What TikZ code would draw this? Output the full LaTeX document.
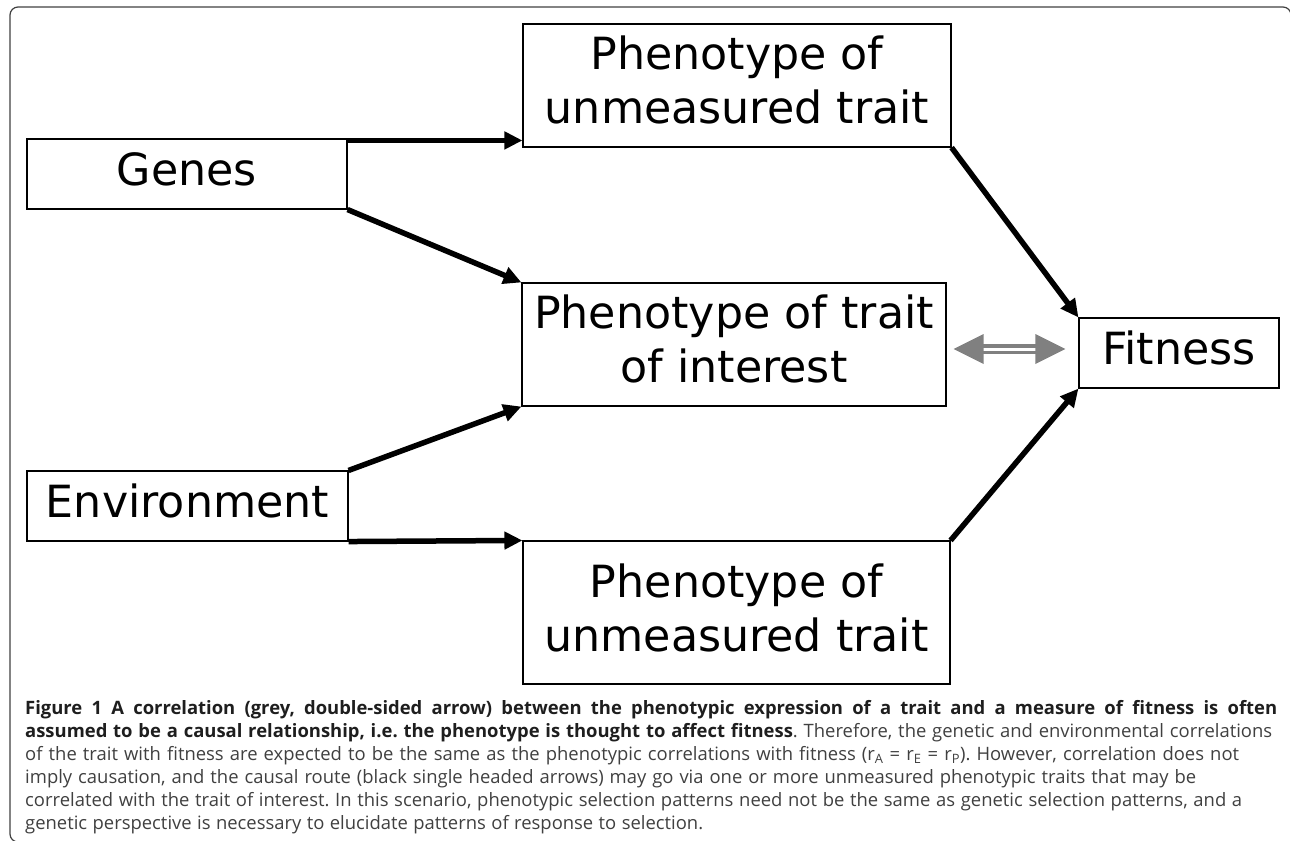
\documentclass[tikz,border=0pt]{standalone}
\usepackage{fontspec}
\setmainfont{DejaVu Sans}
\newfontfamily\capfont{Open Sans}
\usetikzlibrary{arrows.meta}
\definecolor{corrgrey}{RGB}{128,128,128}
\definecolor{capgrey}{RGB}{64,64,64}
\definecolor{capdark}{RGB}{30,30,30}
\begin{document}
\begin{tikzpicture}[x=1bp,y=-1bp,
  box/.style={draw, line width=1.1bp, inner sep=0pt},
  lbl/.style={font=\fontsize{44.5}{54}\selectfont, anchor=base, inner sep=0pt},
  cause/.style={line width=5.5bp, -{Triangle[length=18bp,width=17bp]}},
  corr/.style={corrgrey},
  captext/.style={anchor=base west, inner sep=0pt, font=\capfont\fontsize{18.5}{23}\selectfont\frenchspacing, text=capgrey},
]
\useasboundingbox (0,0) rectangle (1290,841);
% frame
\draw[black!75, line width=1.2bp, rounded corners=8bp] (17,842) -- (10,842) -- (10,7) -- (1291,7) -- (1291,24);

% boxes
\node[box, minimum width=320bp, minimum height=70bp] (genes) at (187,174) {};
\node[box, minimum width=321bp, minimum height=70bp] (env) at (187.5,506) {};
\node[box, minimum width=428bp, minimum height=123bp] (topbox) at (737,85.5) {};
\node[box, minimum width=424bp, minimum height=123bp] (midbox) at (734,344.5) {};
\node[box, minimum width=427bp, minimum height=143bp] (botbox) at (736.5,612.5) {};
\node[box, minimum width=200bp, minimum height=70bp] (fitbox) at (1179,353) {};

% labels
\node[lbl] (genesT) at (187,185) {Genes};
\node[lbl] (envT) at (187.5,517) {Environment};
\node[lbl] (topT1) at (737,69) {Phenotype of};
\node[lbl] (topT2) at (737,123) {unmeasured trait};
\node[lbl] (midT1) at (734,328) {Phenotype of trait};
\node[lbl] (midT2) at (734,382) {of interest};
\node[lbl] (botT1) at (736.5,597) {Phenotype of};
\node[lbl] (botT2) at (736.5,651) {unmeasured trait};
\node[lbl] (fitT) at (1179,364) {Fitness};

% causal arrows
\coordinate (a1s) at ([yshift=-2bp]genes.north east);
\draw[cause] (a1s) -- (a1s -| topbox.west);
\draw[cause] (genes.south east) -- (midbox.north west);
\draw[cause] (env.north east) -- (midbox.south west);
\draw[cause] (env.south east) -- (botbox.north west);
\draw[cause] (topbox.south east) -- (fitbox.north west);
\draw[cause] (botbox.north east) -- (fitbox.south west);

% correlation double arrow
\coordinate (dl) at ([xshift=7bp,yshift=-4.5bp]midbox.east);
\coordinate (dr) at ([xshift=-13bp]fitbox.west |- dl);
\draw[corr, line width=3.5bp, double=white, double distance=3bp] ([xshift=28bp]dl) -- ([xshift=-28bp]dr);
\fill[corr] (dl) -- ++(30,-15) -- ++(0,30) -- cycle;
\fill[corr] (dr) -- ++(-30,-15) -- ++(0,30) -- cycle;

% caption
\node[captext] (c1) at (25,714) {\makebox[1252bp][s]{\bfseries\color{capdark}Figure 1 A correlation (grey, double-sided arrow) between the phenotypic expression of a trait and a measure of fitness is often}};
\node[captext] (c2) at (25,737) {\makebox[1247bp][s]{\textcolor{capdark}{\bfseries assumed to be a causal relationship, i.e. the phenotype is thought to affect fitness}. Therefore, the genetic and environmental correlations}};
\node[captext] (c3) at (25,760) {\makebox[1214bp][s]{of the trait with fitness are expected to be the same as the phenotypic correlations with fitness (r\textsubscript{A} = r\textsubscript{E} = r\textsubscript{P}). However, correlation does not}};
\node[captext] (c4) at (25,783) {\makebox[1171bp][s]{imply causation, and the causal route (black single headed arrows) may go via one or more unmeasured phenotypic traits that may be}};
\node[captext] (c5) at (25,806) {\makebox[1217bp][s]{correlated with the trait of interest. In this scenario, phenotypic selection patterns need not be the same as genetic selection patterns, and a}};
\node[captext] (c6) at (25,829) {\makebox[678bp][s]{genetic perspective is necessary to elucidate patterns of response to selection.}};
\end{tikzpicture}
\end{document}
